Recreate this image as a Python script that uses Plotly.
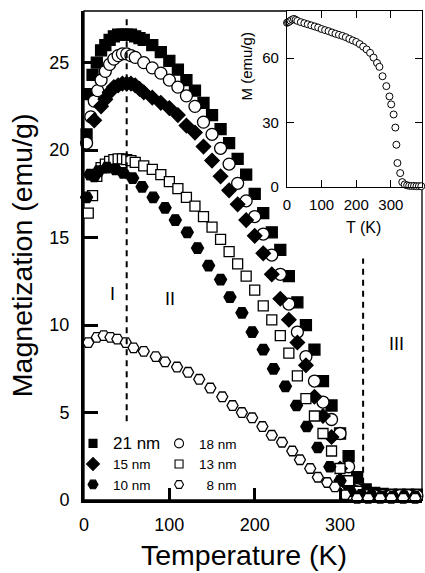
import plotly.graph_objects as go

# ---------------- data ----------------
T_21 = [3, 6, 10, 15, 20, 25, 30, 35, 40, 45, 50, 55, 60, 65, 70, 80, 90, 100, 110, 120, 130, 140,
        150, 160, 170, 180, 190, 200, 210, 220, 230, 240, 250, 260, 270, 280, 290, 300, 310, 320,
        330, 340, 350, 360, 370, 380, 390]
M_21 = [20.9, 23.2, 24.3, 25.0, 25.7, 26.0, 26.3, 26.5, 26.6, 26.6, 26.6, 26.6, 26.5, 26.4, 26.3,
        26.0, 25.6, 25.1, 24.6, 24.0, 23.4, 22.7, 22.0, 21.2, 20.4, 19.5, 18.6, 17.5, 16.4, 15.3,
        14.3, 12.8, 11.3, 10.0, 8.6, 6.8, 5.4, 3.8, 2.5, 1.3, 0.6, 0.4, 0.35, 0.3, 0.3, 0.3, 0.3]

T_18 = [3, 8, 12, 16, 20, 25, 30, 35, 40, 45, 50, 55, 60, 70, 80, 90, 100, 110, 120, 130, 140,
        150, 160, 170, 180, 190, 200, 210, 220, 230, 240, 250, 260, 270, 280, 290, 300, 310, 320,
        330, 340, 350, 360, 370, 380, 390]
M_18 = [20.4, 21.9, 22.8, 23.4, 24.0, 24.5, 24.9, 25.2, 25.4, 25.5, 25.5, 25.4, 25.3, 25.0, 24.7,
        24.4, 24.0, 23.6, 23.1, 22.5, 21.6, 20.9, 20.1, 19.2, 18.1, 17.1, 16.2, 15.2, 14.0, 12.9,
        11.2, 9.6, 8.2, 6.8, 5.6, 4.6, 3.8, 1.9, 0.6, 0.3, 0.25, 0.25, 0.25, 0.25, 0.25, 0.25]

T_15 = [12, 20, 25, 30, 35, 40, 45, 50, 55, 60, 65, 70, 80, 90, 100, 110, 120, 130, 140, 150, 160,
        170, 180, 190, 200, 210, 220, 230, 240, 250, 260, 270, 280, 290, 300, 310, 320, 330]
M_15 = [21.7, 22.5, 22.9, 23.3, 23.6, 23.7, 23.8, 23.8, 23.8, 23.7, 23.5, 23.3, 23.0, 22.7, 22.4,
        22.0, 21.4, 21.0, 20.2, 19.4, 18.5, 17.7, 16.9, 16.0, 15.1, 14.1, 12.9, 11.5, 10.3, 9.0,
        7.7, 5.9, 4.8, 3.6, 1.8, 0.8, 0.4, 0.3]

T_13 = [5, 10, 15, 20, 25, 30, 35, 40, 45, 50, 55, 60, 70, 80, 90, 100, 110, 120, 130, 140, 150,
        160, 170, 180, 190, 200, 210, 220, 230, 240, 250, 260, 270, 280, 290, 300, 310, 320, 330]
M_13 = [16.4, 17.4, 18.5, 19.0, 19.2, 19.35, 19.45, 19.5, 19.5, 19.45, 19.4, 19.3, 19.1, 18.9,
        18.6, 18.2, 17.8, 17.3, 16.8, 16.2, 15.6, 14.9, 14.2, 13.5, 12.8, 12.0, 11.1, 10.3, 9.4,
        8.4, 7.1, 5.8, 4.8, 3.8, 2.8, 1.8, 1.1, 0.5, 0.3]

T_10 = [3, 7, 12, 17, 27, 37, 46, 57, 68, 81, 95, 107, 121, 133, 146, 160, 171, 185, 197, 210,
        222, 236, 249, 261, 274, 288, 300, 312, 325, 337, 350, 362, 375, 388]
M_10 = [17.3, 18.6, 18.5, 18.8, 19.0, 18.9, 18.7, 18.4, 17.9, 17.3, 16.7, 16.0, 15.3, 14.4, 13.4,
        12.6, 11.6, 10.7, 9.6, 8.6, 7.5, 6.5, 5.4, 4.2, 3.0, 1.9, 1.1, 0.5, 0.3, 0.25, 0.2, 0.2,
        0.2, 0.2]

T_8 = [5, 15, 23, 31, 39, 49, 58, 70, 84, 95, 109, 122, 135, 148, 162, 174, 185, 197, 209, 220,
       232, 244, 253, 265, 274, 285, 294, 306, 320, 333, 347, 360, 374, 388]
M_8 = [9.0, 9.3, 9.4, 9.3, 9.2, 9.0, 8.7, 8.5, 8.2, 7.9, 7.6, 7.3, 6.9, 6.4, 5.9, 5.4, 5.0, 4.7,
       4.2, 3.7, 3.3, 2.8, 2.3, 1.8, 1.3, 1.0, 0.75, 0.3, 0.1, 0.1, 0.1, 0.1, 0.1, 0.1]

# inset (bulk-like sample)
T_in = [0, 3, 6, 10, 15, 20, 25, 30, 40, 50, 60, 70, 80, 90, 100, 110, 120, 130, 140, 150, 160,
        170, 180, 190, 200, 210, 220, 230, 240, 250, 260, 267, 276, 287, 296, 301, 308, 313, 316,
        319, 327, 333, 340, 347, 353, 360, 367, 374, 381, 388]
M_in = [76.5, 76.8, 77.0, 77.5, 78.0, 78.3, 77.9, 77.4, 76.8, 76.3, 75.8, 75.3, 74.8, 74.3, 73.6,
        73.1, 72.6, 72.0, 71.4, 70.9, 70.4, 69.8, 69.0, 68.3, 67.6, 66.6, 65.4, 64.1, 62.5, 60.3,
        57.8, 56.0, 51.6, 47.0, 42.2, 38.5, 33.8, 27.7, 19.7, 11.2, 6.5, 2.3, 1.2, 0.8, 0.6, 0.5,
        0.5, 0.4, 0.4, 0.4]

boundaries = [50, 327]
region_labels = ["I", "II", "III"]
region_T = [33, 101, 366]
region_M = [11.8, 11.5, 8.9]

FONT = "Liberation Sans, Arial, sans-serif"

series = [
    ("<span style='font-size:17px'>21 nm</span>", T_21, M_21, "square", 11, "black", "legend"),
    ("18 nm", T_18, M_18, "circle", 12, "white", "legend2"),
    ("15 nm", T_15, M_15, "diamond", 11, "black", "legend"),
    ("13 nm", T_13, M_13, "square", 10, "white", "legend2"),
    ("10 nm", T_10, M_10, "hexagon2", 12, "black", "legend"),
    ("\u20078 nm", T_8, M_8, "hexagon2", 11, "white", "legend2"),
]
legend_sizes = [8, 9, 10, 8, 10, 9]

fig = go.Figure()
for name, tx, my, sym, size, fill, lg in series:
    fig.add_trace(go.Scatter(
        x=tx, y=my, mode="markers", name=name, showlegend=False,
        marker=dict(symbol=sym, size=size, color=fill, line=dict(color="black", width=1.3)),
        cliponaxis=False,
    ))
# legend keys (smaller symbols as in the original key)
for (name, tx, my, sym, size, fill, lg), ls in zip(series, legend_sizes):
    fig.add_trace(go.Scatter(
        x=[None], y=[None], mode="markers", name=name, legend=lg,
        marker=dict(symbol=sym, size=ls, color=fill, line=dict(color="black", width=1.1)),
    ))

fig.add_trace(go.Scatter(
    x=T_in, y=M_in, mode="markers", xaxis="x2", yaxis="y2", showlegend=False,
    marker=dict(symbol="circle", size=7, color="white", line=dict(color="black", width=1)),
    cliponaxis=False,
))

# dashed region boundaries
fig.add_shape(type="line", xref="x", yref="y", x0=boundaries[0], x1=boundaries[0], y0=4.5, y1=27.7,
              line=dict(color="black", width=2, dash="6px,5px"))
fig.add_shape(type="line", xref="x", yref="y", x0=boundaries[1], x1=boundaries[1], y0=0.3, y1=13.8,
              line=dict(color="black", width=2, dash="6px,5px"))
# thin frame (top/right)
fig.add_shape(type="rect", xref="x domain", yref="y domain", x0=0, x1=1, y0=0, y1=1,
              line=dict(color="black", width=1.3), layer="below")

for lab, tx, my in zip(region_labels, region_T, region_M):
    fig.add_annotation(x=tx, y=my, xref="x", yref="y", text=lab, showarrow=False,
                       font=dict(family=FONT, size=18, color="black"))

# axis titles
titles = [
    ("Temperature (K)", 0.473, -0.1125, 0, 28.5),
    ("Magnetization (emu/g)", -0.183, 0.501, -90, 28.5),
    ("T (K)", 0.827, 0.558, 0, 16),
    ("M (emu/g)", 0.482, 0.8865, -90, 15),
]
for txt, px, py, ang, fs in titles:
    fig.add_annotation(x=px, y=py, xref="paper", yref="paper", text=txt, showarrow=False,
                       textangle=ang, xanchor="center", yanchor="middle",
                       font=dict(family=FONT, size=fs, color="black"))

fig.update_layout(
    width=425, height=573,
    margin=dict(l=84, r=3, t=11, b=73),
    paper_bgcolor="white", plot_bgcolor="white",
    font=dict(family=FONT, color="black"),
    xaxis=dict(range=[0, 396], tickvals=[0, 100, 200, 300], ticks="inside", ticklen=12, tickwidth=2.5,
               tickcolor="black", showline=True, linewidth=3, linecolor="black", showgrid=False,
               zeroline=False, tickfont=dict(size=18), ticklabelstandoff=6, automargin=False),
    yaxis=dict(range=[0, 27.95], tickvals=[0, 5, 10, 15, 20, 25], ticks="inside", ticklen=14,
               tickwidth=2.5, tickcolor="black", showline=True, linewidth=3, linecolor="black",
               showgrid=False, zeroline=False, tickfont=dict(size=18), ticklabelstandoff=8,
               automargin=False),
    xaxis2=dict(domain=[0.6006, 1.0], anchor="y2", range=[0, 390], tickvals=[0, 100, 200, 300],
                ticks="inside", ticklen=7, tickwidth=1, tickcolor="black", showline=True,
                linewidth=1.2, linecolor="black", mirror="ticks", showgrid=False, zeroline=False,
                tickfont=dict(size=15), ticklabelstandoff=4, automargin=False),
    yaxis2=dict(domain=[0.640, 1.0], anchor="x2", range=[0, 82], tickvals=[0, 30, 60],
                ticks="inside", ticklen=7, tickwidth=1, tickcolor="black", showline=True,
                linewidth=1.2, linecolor="black", mirror="ticks", showgrid=False, zeroline=False,
                tickfont=dict(size=15), ticklabelstandoff=4, automargin=False),
    legend=dict(x=-0.0325, y=0.147, xanchor="left", yanchor="top", bgcolor="rgba(0,0,0,0)",
                font=dict(size=13.5, family=FONT), itemwidth=30, tracegroupgap=0),
    legend2=dict(x=0.222, y=0.147, xanchor="left", yanchor="top", bgcolor="rgba(0,0,0,0)",
                 font=dict(size=13.5, family=FONT), itemwidth=30, tracegroupgap=0),
)

fig.write_html("out.html", config={"displayModeBar": False},
               post_script="document.body.style.margin='0';")
